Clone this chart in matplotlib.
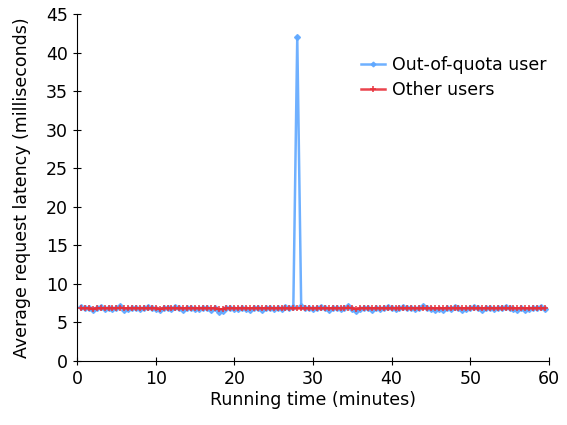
import matplotlib.pyplot as plt
import numpy as np

# running time (minutes), one sample every 30 s
minutes = np.arange(1, 120) * 0.5

# average request latency (ms)
out_of_quota = [
    7.0, 6.8, 6.9, 6.6, 6.8, 7.0, 6.7, 6.9, 6.7, 6.8,
    7.1, 6.6, 6.7, 6.8, 6.9, 6.7, 6.8, 7.0, 6.9, 6.7,
    6.6, 6.8, 6.9, 6.7, 7.0, 6.8, 6.6, 6.8, 6.9, 6.7,
    6.7, 6.9, 6.8, 6.6, 6.8, 6.4, 6.5, 6.8, 6.9, 6.7,
    6.7, 6.8, 6.7, 6.6, 6.8, 6.9, 6.6, 6.8, 6.9, 6.7,
    6.8, 6.7, 7.0, 6.9, 7.0, 42.0, 7.1, 6.8, 6.8, 6.7,
    6.9, 7.0, 6.8, 6.6, 6.9, 6.8, 6.7, 6.8, 7.1, 6.7,
    6.5, 6.7, 6.8, 6.9, 6.6, 6.8, 6.7, 6.9, 7.0, 6.8,
    6.7, 6.8, 7.0, 6.9, 6.8, 6.7, 6.9, 7.1, 6.8, 6.7,
    6.6, 6.7, 6.6, 6.8, 6.7, 7.0, 6.8, 6.6, 6.7, 6.8,
    7.0, 6.8, 6.6, 6.8, 6.9, 6.7, 6.8, 6.9, 7.0, 6.8,
    6.7, 6.6, 6.8, 6.6, 6.7, 6.8, 6.9, 7.0, 6.7,
]
other_users = [
    6.8, 6.8, 6.8, 6.7, 6.8, 6.8, 6.8, 6.8, 6.8, 6.8,
    6.9, 6.8, 6.8, 6.8, 6.8, 6.8, 6.8, 6.8, 6.8, 6.8,
    6.7, 6.8, 6.8, 6.8, 6.8, 6.8, 6.8, 6.8, 6.8, 6.8,
    6.8, 6.8, 6.8, 6.8, 6.8, 6.7, 6.7, 6.8, 6.8, 6.8,
    6.8, 6.8, 6.8, 6.8, 6.8, 6.8, 6.8, 6.8, 6.8, 6.8,
    6.8, 6.8, 6.8, 6.8, 6.8, 6.8, 6.8, 6.8, 6.8, 6.8,
    6.8, 6.8, 6.8, 6.8, 6.8, 6.8, 6.8, 6.8, 6.9, 6.8,
    6.7, 6.8, 6.8, 6.8, 6.8, 6.8, 6.8, 6.8, 6.8, 6.8,
    6.8, 6.8, 6.8, 6.8, 6.8, 6.8, 6.8, 6.8, 6.8, 6.8,
    6.8, 6.8, 6.8, 6.8, 6.8, 6.8, 6.8, 6.8, 6.8, 6.8,
    6.8, 6.8, 6.8, 6.8, 6.8, 6.8, 6.8, 6.8, 6.8, 6.8,
    6.8, 6.8, 6.8, 6.8, 6.8, 6.8, 6.8, 6.8, 6.8,
]

plt.rcParams['font.family'] = 'DejaVu Sans'
plt.rcParams['font.size'] = 12.5

fig = plt.figure(figsize=(5.67, 4.25), dpi=100)
ax = fig.add_axes([0.136, 0.151, 0.832, 0.816])

ax.plot(minutes, out_of_quota, color='#5fa8ff', lw=1.8, marker='D', ms=3,
        label='Out-of-quota user', alpha=0.9)
ax.plot(minutes, other_users, color='#e8303a', lw=1.8, marker='+', ms=5,
        mew=1.2, label='Other users', alpha=0.9)

ax.set_xlim(0, 60)
ax.set_ylim(0, 45)
ax.set_xticks(range(0, 61, 10))
ax.set_yticks(range(0, 46, 5))
ax.set_xlabel('Running time (minutes)', labelpad=2)
ax.set_ylabel('Average request latency (milliseconds)', labelpad=11)
ax.spines['top'].set_visible(False)
ax.spines['right'].set_visible(False)
ax.tick_params(direction='inout', length=6, width=0.8)

ax.legend(loc='upper left', bbox_to_anchor=(0.568, 0.925), frameon=False,
          handlelength=1.4, handletextpad=0.4, labelspacing=0.45,
          markerscale=0.8)

fig.savefig('out.png', dpi=100)
